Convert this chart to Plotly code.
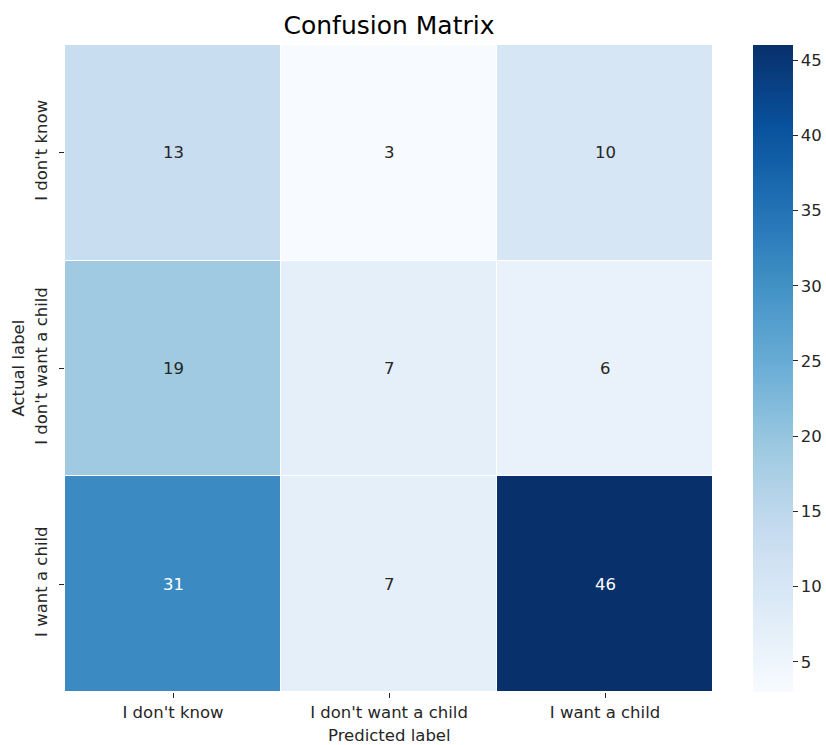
import plotly.graph_objects as go

labels = ["I don't know", "I don't want a child", "I want a child"]
matrix = [
    [13, 3, 10],
    [19, 7, 6],
    [31, 7, 46],
]
colorbar_ticks = [5, 10, 15, 20, 25, 30, 35, 40, 45]

blues = ["#f7fbff", "#deebf7", "#c6dbef", "#9ecae1", "#6baed6",
         "#4292c6", "#2171b5", "#08519c", "#08306b"]
colorscale = [[i / (len(blues) - 1), c] for i, c in enumerate(blues)]

zmin = min(min(r) for r in matrix)
zmax = max(max(r) for r in matrix)

FONT = "DejaVu Sans"
FS = 16.5
TXT = "#262626"

fig = go.Figure(go.Heatmap(
    z=matrix, x=labels, y=labels,
    colorscale=colorscale, zmin=zmin, zmax=zmax,
    xgap=1, ygap=1,
    hoverinfo="skip",
    colorbar=dict(
        x=(753 - 65) / 648, xanchor="left", xref="paper",
        y=0.5, yanchor="middle", len=1.0, lenmode="fraction",
        thickness=40, thicknessmode="pixels",
        xpad=0, ypad=0,
        outlinewidth=0,
        ticks="outside", ticklen=5, tickcolor=TXT,
        tickvals=colorbar_ticks,
        tickfont=dict(family=FONT, size=FS, color=TXT),
    ),
))

annotations = []
for i, row in enumerate(matrix):
    for j, v in enumerate(row):
        frac = (v - zmin) / (zmax - zmin)
        annotations.append(dict(
            x=labels[j], y=labels[i], text=str(v), showarrow=False,
            font=dict(family=FONT, size=FS,
                      color="white" if frac > 0.6 else TXT),
        ))

annotations.append(dict(
    text="Predicted label", showarrow=False,
    xref="paper", yref="paper", x=0.5, y=-(735 - 692) / 647,
    xanchor="center", yanchor="middle",
    font=dict(family=FONT, size=FS, color=TXT),
))
annotations.append(dict(
    text="Actual label", showarrow=False, textangle=-90,
    xref="paper", yref="paper", x=-(65 - 18) / 648, y=0.5,
    xanchor="center", yanchor="middle",
    font=dict(family=FONT, size=FS, color=TXT),
))

fig.update_layout(
    width=826, height=745,
    margin=dict(l=65, r=113, t=45, b=53, autoexpand=False),
    paper_bgcolor="white", plot_bgcolor="white",
    title=dict(text="Confusion Matrix", x=0.5, xref="paper", xanchor="center",
               y=1 - 25 / 745, yref="container", yanchor="middle",
               font=dict(family=FONT, size=25, color="black")),
    annotations=annotations,
    xaxis=dict(
        automargin=False,
        ticks="outside", ticklen=5, tickcolor=TXT,
        tickfont=dict(family=FONT, size=FS, color=TXT),
        showgrid=False, zeroline=False, showline=False,
    ),
    yaxis=dict(
        automargin=False,
        autorange="reversed",
        ticks="outside", ticklen=5, tickcolor=TXT, tickangle=-90,
        ticklabelstandoff=5,
        tickfont=dict(family=FONT, size=FS, color=TXT),
        showgrid=False, zeroline=False, showline=False,
    ),
)

fig.write_html(
    "out.html",
    config={"displayModeBar": False},
    post_script="document.body.style.margin='0';document.body.style.overflow='hidden';",
)
